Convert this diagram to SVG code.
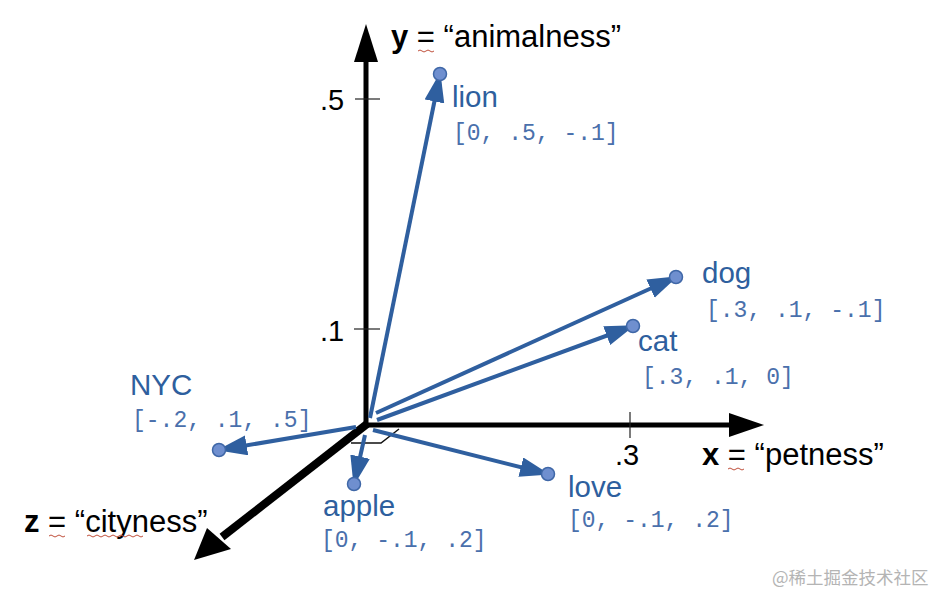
<svg xmlns="http://www.w3.org/2000/svg" width="938" height="593" viewBox="0 0 938 593">
<style>
.ax{stroke:#000;fill:none}
.tick{stroke:#222;stroke-width:1.2}
.num{font-family:"Liberation Sans",Arial,sans-serif;font-size:29px;fill:#000}
.axl{font-family:"Liberation Sans",Arial,sans-serif;font-size:31px;fill:#000}
.vec{stroke:#2f5f9f;stroke-width:4;fill:none;marker-end:url(#ah)}
.pt{fill:#6f8fcf;stroke:#3f67a7;stroke-width:1.5}
.lbl{font-family:"Liberation Sans",Arial,sans-serif;font-size:29.5px;fill:#2e5f9e}
.cv{font-family:"Liberation Mono","Courier New",monospace;font-size:23px;fill:#4a70ac}
.sq{stroke:#c0503c;stroke-width:1;fill:none}
</style>
<defs>
<marker id="ah" markerUnits="userSpaceOnUse" markerWidth="34" markerHeight="22" refX="28" refY="10" orient="auto">
<path d="M0,0 L30,10 L0,20 z" fill="#2f5f9f"/>
</marker>
</defs>
<rect width="938" height="593" fill="#fff"/>
<g id="axes">
<line class="ax" x1="366" y1="427" x2="366" y2="58" stroke-width="5"/>
<polygon points="366,24 354,62 378,62" fill="#000"/>
<line class="ax" x1="364" y1="425" x2="732" y2="425" stroke-width="5"/>
<polygon points="764,425 729,413 729,437" fill="#000"/>
<line class="ax" x1="367" y1="424" x2="222" y2="537" stroke-width="8"/>
<polygon points="194,560 207,528 231,549" fill="#000"/>
<line class="tick" x1="355" y1="99" x2="380" y2="99"/>
<line class="tick" x1="354" y1="329" x2="380" y2="329"/>
<line class="tick" x1="630" y1="412" x2="630" y2="438"/>
<polyline points="351,443 381,443 399,429" fill="none" stroke="#111" stroke-width="1.5"/>
<text class="num" x="320" y="110">.5</text>
<text class="num" x="320" y="341">.1</text>
<text class="num" x="615" y="465">.3</text>
<text class="axl" x="391" y="47"><tspan font-weight="bold">y</tspan> = “animalness”</text>
<text class="axl" x="702" y="465"><tspan font-weight="bold">x</tspan> = “petness”</text>
<text class="axl" x="24" y="532"><tspan font-weight="bold">z</tspan> = “cityness”</text>
<path class="sq" d="M418,51 q2,-2 4,0 t4,0 t4,0 t4,0"/>
<path class="sq" d="M728,469 q2,-2 4,0 t4,0 t4,0 t4,0"/>
<path class="sq" d="M49,536 q2,-2 4,0 t4,0 t4,0 t4,0"/>
<path class="sq" d="M87,536 q2,-2 4,0 t4,0 t4,0 t4,0 t4,0 t4,0 t4,0 t4,0 t4,0 t4,0 t4,0 t4,0 t4,0 t4,0"/>
</g>
<g id="connectors">
<line class="vec" x1="370" y1="418" x2="440" y2="74"/>
<line class="vec" x1="376" y1="413" x2="676" y2="277"/>
<line class="vec" x1="377" y1="420" x2="633" y2="326"/>
<line class="vec" x1="356" y1="427" x2="219" y2="450"/>
<line class="vec" x1="365" y1="435" x2="354" y2="484"/>
<line class="vec" x1="373" y1="430" x2="548" y2="474"/>
</g>
<g id="lion"><circle class="pt" cx="440" cy="74" r="6.5"/><text class="lbl" x="452" y="107">lion</text><text class="cv" x="453" y="140">[0, .5, -.1]</text></g>
<g id="dog"><circle class="pt" cx="676" cy="277" r="6.5"/><text class="lbl" x="702" y="283">dog</text><text class="cv" x="706" y="317">[.3, .1, -.1]</text></g>
<g id="cat"><circle class="pt" cx="633" cy="326" r="6.5"/><text class="lbl" x="638" y="351">cat</text><text class="cv" x="642" y="384">[.3, .1, 0]</text></g>
<g id="nyc"><circle class="pt" cx="219" cy="450" r="6.5"/><text class="lbl" x="130" y="395">NYC</text><text class="cv" x="132" y="427">[-.2, .1, .5]</text></g>
<g id="apple"><circle class="pt" cx="354" cy="484" r="6.5"/><text class="lbl" x="323" y="516">apple</text><text class="cv" x="321" y="547">[0, -.1, .2]</text></g>
<g id="love"><circle class="pt" cx="548" cy="474" r="6.5"/><text class="lbl" x="568" y="497">love</text><text class="cv" x="568" y="527">[0, -.1, .2]</text></g>
<text x="772" y="584" font-family="Noto Sans CJK SC, sans-serif" font-size="17.5" fill="#b4b4b4">@稀土掘金技术社区</text>
</svg>
